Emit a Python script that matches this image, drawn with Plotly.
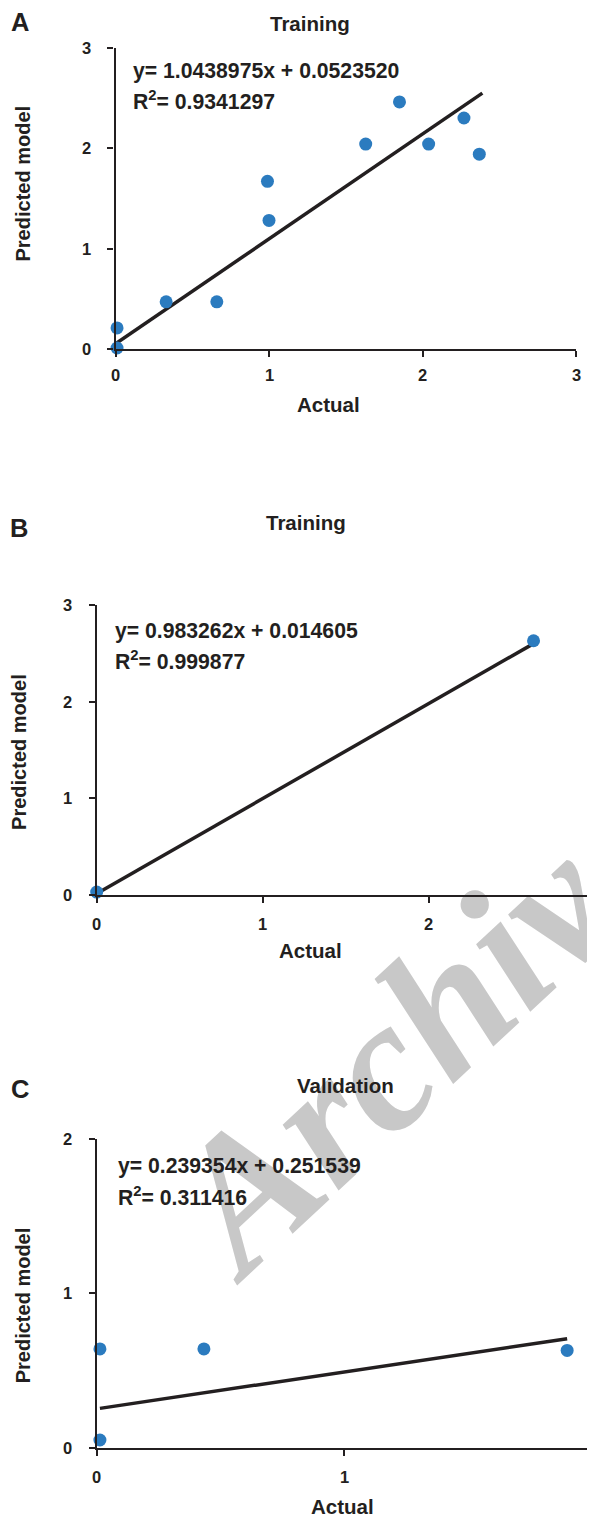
import plotly.graph_objects as go

# The page body has an 8px default margin, so the figure is drawn 8px in;
# layout positions below are given in page pixels and shifted by OFF.
OFF = 8
W, H = 595 - OFF, 1517 - OFF

# ---------------- data ----------------
# Panel A (Training)
a_actual = [0.01, 0.01, 0.33, 0.66, 0.99, 1.00, 1.63, 1.85, 2.04, 2.27, 2.37]
a_pred = [0.21, 0.01, 0.47, 0.47, 1.67, 1.28, 2.04, 2.46, 2.04, 2.30, 1.94]
a_slope, a_inter = 1.0438975, 0.0523520
a_fit_x = [0.0, 2.39]
a_eq = "y= 1.0438975x + 0.0523520"
a_r2 = "R<sup>2</sup>= 0.9341297"

# Panel B (Training)
b_actual = [0.0, 2.63]
b_pred = [0.03, 2.63]
b_slope, b_inter = 0.983262, 0.014605
b_fit_x = [0.0, 2.63]
b_eq = "y= 0.983262x + 0.014605"
b_r2 = "R<sup>2</sup>= 0.999877"

# Panel C (Validation)
c_actual = [0.013, 0.013, 0.433, 1.90]
c_pred = [0.64, 0.05, 0.64, 0.63]
c_slope, c_inter = 0.239354, 0.251539
c_fit_x = [0.013, 1.90]
c_eq = "y= 0.239354x + 0.251539"
c_r2 = "R<sup>2</sup>= 0.311416"

titles = ["Training", "Training", "Validation"]
letters = ["A", "B", "C"]
ticks_ab = [0, 1, 2, 3]
ticks_c = [0, 1, 2]
x_title = "Actual"
y_title = "Predicted model"
watermark = "Archive"

BLUE = "#2b7bbf"
INK = "#231f20"
FONT = "Liberation Sans"


def px(x):
    return (x - OFF) / W


def py(y):
    return 1 - (y - OFF) / H


fig = go.Figure()

panels = [
    dict(ax="", x=a_actual, y=a_pred, s=a_slope, b=a_inter, fx=a_fit_x),
    dict(ax="2", x=b_actual, y=b_pred, s=b_slope, b=b_inter, fx=b_fit_x),
    dict(ax="3", x=c_actual, y=c_pred, s=c_slope, b=c_inter, fx=c_fit_x),
]
for p in panels:
    fy = [p["s"] * v + p["b"] for v in p["fx"]]
    fig.add_trace(go.Scatter(x=p["fx"], y=fy, mode="lines",
                             line=dict(color=INK, width=3.5),
                             xaxis="x" + p["ax"], yaxis="y" + p["ax"],
                             cliponaxis=False, hoverinfo="skip"))
    fig.add_trace(go.Scatter(x=p["x"], y=p["y"], mode="markers",
                             marker=dict(color=BLUE, size=13, line=dict(width=0)),
                             xaxis="x" + p["ax"], yaxis="y" + p["ax"],
                             cliponaxis=False))


def axis(dom, rng, vals, anchor):
    return dict(domain=dom, range=rng, tickvals=vals, anchor=anchor,
                showticklabels=False,
                showline=True, linecolor=INK, linewidth=2.2,
                ticks="outside", ticklen=6, tickwidth=2, tickcolor=INK,
                showgrid=False, zeroline=False, fixedrange=True)


fig.update_layout(
    width=W, height=H,
    margin=dict(l=0, r=0, t=0, b=0),
    paper_bgcolor="white", plot_bgcolor="white",
    showlegend=False,
    xaxis=axis([px(115.5), px(576)], [0, 3], ticks_ab, "y"),
    yaxis=axis([py(349), py(47.7)], [0, 3], ticks_ab, "x"),
    xaxis2=axis([px(96.7), 1.0], [0, 3], ticks_ab, "y2"),
    yaxis2=axis([py(895), py(605)], [0, 3], ticks_ab, "x2"),
    xaxis3=axis([px(96.7), px(591.9)], [0, 2], ticks_c, "y3"),
    yaxis3=axis([py(1447.7), py(1139)], [0, 2], ticks_c, "x3"),
)

ann = []


def text(x, y, s, size, xanchor="center", angle=0, xref="paper", yref="paper"):
    ann.append(dict(x=x if xref != "paper" else px(x),
                    y=y if yref != "paper" else py(y),
                    xref=xref, yref=yref, text=s,
                    showarrow=False, xanchor=xanchor, yanchor="middle",
                    textangle=angle,
                    font=dict(family=FONT, size=size, color=INK, weight="bold")))


# tick labels (drawn with the axes' own scales)
TS = 16.5
for v in ticks_ab:
    text(v, 375, str(v), TS, xref="x")
    text(92.7, v, str(v), TS, xanchor="right", yref="y")
    text(v, 924, str(v), TS, xref="x2")
    text(73.7, v, str(v), TS, xanchor="right", yref="y2")
for v in ticks_c:
    text(v, 1476.7, str(v), TS, xref="x3")
    text(73.7, v, str(v), TS, xanchor="right", yref="y3")

# panel letters
text(19.7, 22.5, letters[0], 25.5)
text(19.3, 528.3, letters[1], 25.5)
text(19.7, 1089.3, letters[2], 25.5)
# titles
text(310, 23.3, titles[0], 20.5)
text(305.8, 522.7, titles[1], 20.5)
text(345.8, 1085, titles[2], 20.5)
# axis titles
text(328.7, 405, x_title, 20.5)
text(310, 950.7, x_title, 20.5)
text(342.5, 1506.7, x_title, 20.5)
text(22.5, 184, y_title, 20, angle=-90)
text(19.2, 751.7, y_title, 20, angle=-90)
text(22.5, 1305.8, y_title, 20, angle=-90)
# equations
EQ = 21.2
text(131.3, 71, a_eq, EQ, xanchor="left")
text(131.3, 100, a_r2, EQ, xanchor="left")
text(113, 631, b_eq, EQ, xanchor="left")
text(113, 660, b_r2, EQ, xanchor="left")
text(116.3, 1166, c_eq, EQ, xanchor="left")
text(116.3, 1196, c_r2, EQ, xanchor="left")

fig.update_layout(annotations=ann)

# watermark (behind the plot)
cx, cy = 408.7, 1011.1
fig.add_shape(type="rect", xref="paper", yref="paper",
              x0=px(cx - 1), x1=px(cx + 1), y0=py(cy + 1), y1=py(cy - 1),
              line=dict(width=0), fillcolor="rgba(0,0,0,0)", layer="below",
              label=dict(text=watermark, textangle=-43,
                         textposition="middle center",
                         font=dict(family="Liberation Serif", size=188,
                                   color="#c8c8c8", weight="bold",
                                   style="italic")))

fig.write_html("out.html")
